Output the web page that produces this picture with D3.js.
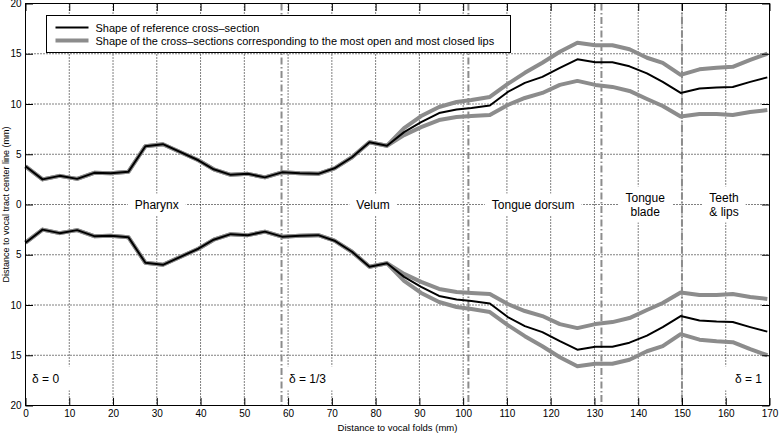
<!DOCTYPE html>
<html>
<head>
<meta charset="utf-8">
<script src="https://cdn.jsdelivr.net/npm/d3@7"></script>
<style>
    body { margin: 0; background: #fff; }
    svg { display: block; font-family: "Liberation Sans", Arial, sans-serif; }
    .grid line { stroke: #000; stroke-width: 1; stroke-dasharray: 1,2; }
    .boundary { stroke: #8c8c8c; stroke-width: 2; stroke-dasharray: 7,2.5,1.5,2.5; }
    .gray-curve { fill: none; stroke: #8c8c8c; stroke-width: 4; stroke-linejoin: round; }
    .ref-curve { fill: none; stroke: #000; stroke-width: 2; stroke-linejoin: round; }
    .region { font-size: 12px; fill: #000; }
    .delta { font-size: 12px; fill: #000; }
    .tick text { font-size: 10px; fill: #000; }
</style>
</head>
<body>
<div id="chart"></div>
<script>
// distance to vocal folds (mm) of each vertex of the cross-section profile
const distances = [0, 3.9, 7.8, 11.8, 15.7, 19.5, 23.5, 27.4, 31.4, 39.5, 43.0, 46.9, 50.8, 54.7,
    58.6, 62.7, 66.9, 70.6, 74.6, 78.6, 82.6, 86.5, 90.4, 94.5, 98.5, 101.9, 106.1, 110.2, 114.1,
    118.1, 122.1, 126.1, 130.2, 134.1, 138.0, 142.0, 145.6, 149.7, 154.0, 157.9, 161.6, 165.6, 169.5];

// half-width of the tract (distance to center line, mm)
const referenceShape = [3.8, 2.5, 2.85, 2.55, 3.15, 3.1, 3.25, 5.8, 6.0, 4.4, 3.5, 2.95, 3.05, 2.7,
    3.2, 3.1, 3.05, 3.6, 4.7, 6.2, 5.85, 7.2, 8.2, 9.1, 9.45, 9.6, 9.85, 11.2, 12.1,
    12.7, 13.6, 14.45, 14.15, 14.15, 13.75, 13.05, 12.2, 11.1, 11.55, 11.65, 11.7, 12.2, 12.65];
const openLipsShape = [3.8, 2.5, 2.85, 2.55, 3.15, 3.1, 3.25, 5.8, 6.0, 4.4, 3.5, 2.95, 3.05, 2.7,
    3.2, 3.1, 3.05, 3.6, 4.7, 6.2, 5.85, 7.6, 8.8, 9.7, 10.2, 10.4, 10.7, 12.0, 13.1,
    14.1, 15.2, 16.1, 15.85, 15.85, 15.45, 14.6, 14.1, 12.9, 13.45, 13.6, 13.7, 14.4, 15.0];
const closedLipsShape = [3.8, 2.5, 2.85, 2.55, 3.15, 3.1, 3.25, 5.8, 6.0, 4.4, 3.5, 2.95, 3.05, 2.7,
    3.2, 3.1, 3.05, 3.6, 4.7, 6.2, 5.85, 6.9, 7.7, 8.4, 8.7, 8.8, 8.9, 9.9, 10.6,
    11.1, 11.9, 12.3, 11.9, 11.7, 11.3, 10.5, 9.8, 8.75, 9.0, 9.0, 8.9, 9.2, 9.4];

// region boundaries (dash-dot lines) and labels
const boundaries = [58.5, 101.2, 131.6, 150];
const regionNames = [["Pharynx"], ["Velum"], ["Tongue dorsum"], ["Tongue", "blade"], ["Teeth", "& lips"]];
const regionCenters = [30, 79.4, 116, 141.6, 159.6];
const deltaLabels = ["\u03B4 = 0", "\u03B4 = 1/3", "\u03B4 = 1"];
const deltaPositions = [1.5, 60.2, 168.3];
const deltaAnchors = ["start", "start", "end"];

const xTicks = d3.range(0, 171, 10);
const yTicks = [-20, -15, -10, -5, 0, 5, 10, 15, 20];

const legendLabels = ["Shape of reference cross\u2013section",
    "Shape of the cross\u2013sections corresponding to the most open and most closed lips"];

let margin = {top: 3.5, left: 25.5, right: 9.5, bottom: 27.5},
    totalWidth = 779,
    totalHeight = 433,
    width = totalWidth - margin.left - margin.right,
    height = totalHeight - margin.top - margin.bottom,
    tickLen = 7.5;

let xScale = d3.scaleLinear().domain([0, 170]).range([0, width]),
    yScale = d3.scaleLinear().domain([-20, 20]).range([height, 0]);

let svg = d3.select('#chart')
    .append('svg')
    .attr('width', totalWidth)
    .attr('height', totalHeight);

let g = svg.append('g')
    .attr('transform', `translate(${margin.left},${margin.top})`);

// dotted grid
let grid = g.append('g').classed('grid', true);
grid.selectAll('.vx').data(xTicks.slice(1, -1)).join('line')
    .attr('x1', d => xScale(d)).attr('x2', d => xScale(d))
    .attr('y1', 0).attr('y2', height);
grid.selectAll('.hy').data(yTicks.slice(1, -1)).join('line')
    .attr('x1', 0).attr('x2', width)
    .attr('y1', d => yScale(d)).attr('y2', d => yScale(d));

// white boxes behind the labels (they hide the grid)
let boxLayer = g.append('g');

// region boundaries
g.selectAll('.boundary').data(boundaries).join('line')
    .classed('boundary', true)
    .attr('x1', d => xScale(d)).attr('x2', d => xScale(d))
    .attr('y1', 0).attr('y2', height);

// curves: upper half positive, lower half mirrored
let line = d3.line()
    .x((d, i) => xScale(distances[i]))
    .y(d => yScale(d));

[openLipsShape, closedLipsShape].forEach(shape => {
    g.append('path').classed('gray-curve', true).attr('d', line(shape));
    g.append('path').classed('gray-curve', true).attr('d', line(shape.map(v => -v)));
});
g.append('path').classed('ref-curve', true).attr('d', line(referenceShape));
g.append('path').classed('ref-curve', true).attr('d', line(referenceShape.map(v => -v)));

// region labels
regionNames.forEach((lines, i) => {
    let t = g.append('text')
        .classed('region', true)
        .attr('text-anchor', 'middle')
        .attr('x', xScale(regionCenters[i]))
        .attr('y', yScale(0) + 4 - (lines.length - 1) * 7);
    lines.forEach((s, j) => t.append('tspan')
        .attr('x', xScale(regionCenters[i]))
        .attr('dy', j ? 14 : 0)
        .text(s));
    let b = t.node().getBBox();
    boxLayer.append('rect')
        .attr('x', b.x - 7).attr('y', b.y - 4)
        .attr('width', b.width + 14).attr('height', b.height + 8)
        .attr('fill', '#fff');
});

// delta labels
deltaLabels.forEach((s, i) => {
    let t = g.append('text')
        .classed('delta', true)
        .attr('text-anchor', deltaAnchors[i])
        .attr('x', xScale(deltaPositions[i]))
        .attr('y', yScale(-17.4) + 4)
        .text(s);
    let b = t.node().getBBox();
    boxLayer.append('rect')
        .attr('x', b.x - 13).attr('y', b.y - 6)
        .attr('width', b.width + 26).attr('height', b.height + 10)
        .attr('fill', '#fff');
});

// axes with inward ticks on all four sides
g.append('g')
    .attr('transform', `translate(0,${height})`)
    .call(d3.axisBottom(xScale).tickValues(xTicks).tickSizeInner(-tickLen).tickSizeOuter(0).tickPadding(4))
    .call(a => a.select('.domain').remove());
g.append('g')
    .call(d3.axisTop(xScale).tickValues(xTicks).tickSizeInner(-tickLen).tickSizeOuter(0).tickFormat(''))
    .call(a => a.select('.domain').remove());
g.append('g')
    .call(d3.axisLeft(yScale).tickValues(yTicks).tickSizeInner(-tickLen).tickSizeOuter(0).tickPadding(4)
        .tickFormat(d => Math.abs(d)))
    .call(a => a.select('.domain').remove());
g.append('g')
    .attr('transform', `translate(${width},0)`)
    .call(d3.axisRight(yScale).tickValues(yTicks).tickSizeInner(-tickLen).tickSizeOuter(0).tickFormat(''))
    .call(a => a.select('.domain').remove());
g.selectAll('.tick line').attr('stroke', '#000');

g.append('rect')
    .attr('width', width).attr('height', height)
    .attr('fill', 'none').attr('stroke', '#000').attr('stroke-width', 1);

// axis titles
svg.append('text')
    .attr('x', margin.left + width / 2)
    .attr('y', 431)
    .attr('text-anchor', 'middle')
    .attr('font-size', '9.5px')
    .text('Distance to vocal folds (mm)');
svg.append('text')
    .attr('transform', `translate(9,${margin.top + height / 2}) rotate(-90)`)
    .attr('text-anchor', 'middle')
    .attr('font-size', '9px')
    .text('Distance to vocal tract center line (mm)');

// legend
let legend = svg.append('g').attr('transform', 'translate(46.5,15.5)');
legend.append('rect')
    .attr('width', 464).attr('height', 37)
    .attr('fill', '#fff').attr('stroke', '#000');
let legendStyles = [{stroke: '#000', w: 2}, {stroke: '#8c8c8c', w: 4}];
legendLabels.forEach((s, i) => {
    let y = 12 + i * 13;
    legend.append('line')
        .attr('x1', 9).attr('x2', 42).attr('y1', y).attr('y2', y)
        .attr('stroke', legendStyles[i].stroke).attr('stroke-width', legendStyles[i].w);
    legend.append('text')
        .attr('x', 49).attr('y', y + 4)
        .attr('font-size', '11px')
        .text(s);
});
</script>
</body>
</html>
